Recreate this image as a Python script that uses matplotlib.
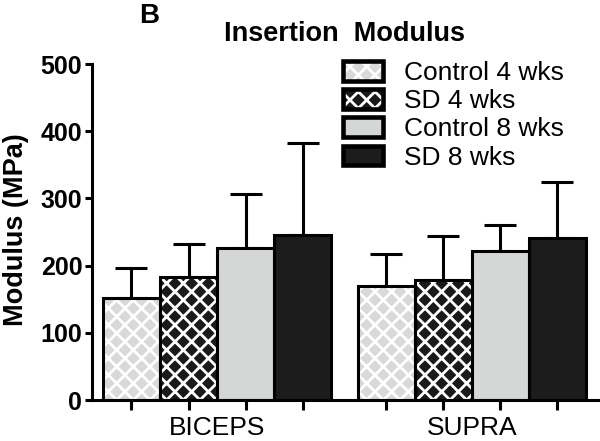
import matplotlib
matplotlib.use("Agg")
import matplotlib.pyplot as plt
from matplotlib.patches import Patch
from matplotlib.legend_handler import HandlerTuple
import numpy as np

# data
groups = ["BICEPS", "SUPRA"]
series = ["Control 4 wks", "SD 4 wks", "Control 8 wks", "SD 8 wks"]
biceps_mean = [152, 183, 226, 245]
biceps_err = [45, 49, 80, 137]
supra_mean = [170, 179, 222, 241]
supra_err = [47, 65, 38, 83]

fills = ["#d9d9d9", "#1a1a1a", "#d5d7d7", "#1c1c1c"]
hatches = ["xx", "xx", None, None]

plt.rcParams["font.family"] = ["Liberation Sans", "DejaVu Sans"]
plt.rcParams["hatch.linewidth"] = 2.0
LW = 2.2

fig = plt.figure(figsize=(6, 4.41), dpi=100)
ax = fig.add_axes([92/600, 1-400/441, (598-92)/600, (400-64)/441])

group_start = [0.0, 4.46]
means = [biceps_mean, supra_mean]
errs = [biceps_err, supra_err]

handles = []
for i, name in enumerate(series):
    xs = [g + i for g in group_start]
    ys = [m[i] for m in means]
    es = [e[i] for e in errs]
    ax.bar(xs, ys, width=1, color=fills[i], edgecolor="white", hatch=hatches[i],
           linewidth=0, zorder=2)
    ax.bar(xs, ys, width=1, fill=False, edgecolor="black", linewidth=LW, zorder=3)
    ax.errorbar(xs, ys, yerr=[np.zeros(len(es)), es], fmt="none", ecolor="black",
                elinewidth=LW, capsize=11.5, capthick=LW, zorder=1)
    h1 = Patch(facecolor=fills[i], edgecolor="white", hatch=hatches[i], linewidth=0)
    h2 = Patch(fill=False, edgecolor="black", linewidth=LW*1.5)
    handles.append((h1, h2))

ax.set_ylim(0, 500)
ax.set_xlim(-0.69, 8.17)
ax.set_yticks(range(0, 501, 100))
ax.tick_params(axis="y", length=5, width=LW, labelsize=18, pad=2)
for lab in ax.get_yticklabels():
    lab.set_fontweight("bold")

centers = [g + 1.5 for g in group_start]
ax.set_xticks(centers)
ax.set_xticklabels(groups, fontsize=19)
ax.set_xticks([g + i for g in group_start for i in range(4)], minor=True)
ax.tick_params(axis="x", which="major", length=0, pad=11.5)
ax.tick_params(axis="x", which="minor", length=7, width=LW)

for s in ["top", "right"]:
    ax.spines[s].set_visible(False)
for s in ["left", "bottom"]:
    ax.spines[s].set_linewidth(LW)

ax.set_ylabel("Modulus (MPa)", fontsize=19.5, fontweight="bold")
ax.yaxis.set_label_coords(-0.125, 0.506)

fig.text(345/600, 1-34/441, "Insertion  Modulus", fontsize=19.5, fontweight="bold",
         ha="center", va="center")
fig.text(149/600, 1-16/441, "B", fontsize=20, fontweight="bold", ha="center", va="center")

ax.legend(handles, series, handler_map={tuple: HandlerTuple(ndivide=1, pad=0)},
          loc="upper left", bbox_to_anchor=(343/600, 1-61/441),
          bbox_transform=fig.transFigure, frameon=False, fontsize=19,
          handlelength=1.5, handleheight=0.76, handletextpad=0.83,
          labelspacing=0.16, borderpad=0, borderaxespad=0)

fig.savefig("out.png", dpi=100)
